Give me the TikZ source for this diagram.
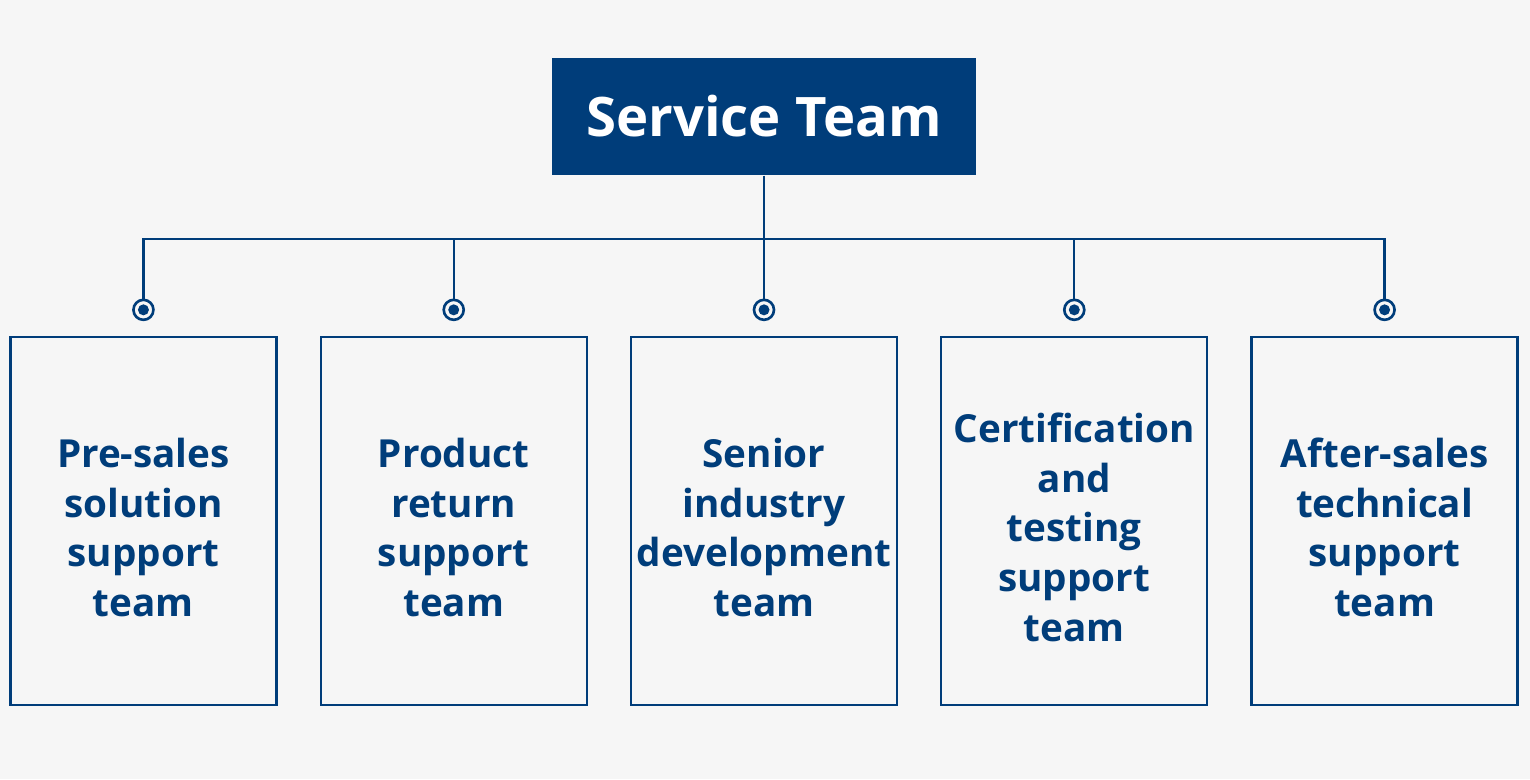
\documentclass[tikz,border=0pt]{standalone}
\usepackage{fontspec}
\setmainfont{Open Sans}
\usepackage{xcolor}
\usetikzlibrary{positioning}
\definecolor{navy}{HTML}{003D7A}
\definecolor{paper}{HTML}{F6F6F6}
\newcommand\teamtext[1]{\raisebox{-0.11cm}[\height][\depth]{\begin{tabular}{@{}c@{}}#1\end{tabular}}}

\begin{document}
\begin{tikzpicture}[node distance=0.42cm,
                    team/.style={draw=navy, line width=0.65pt, text=navy,
                                 font=\fontsize{11}{14.2}\selectfont\bfseries,
                                 minimum width=2.66cm, minimum height=3.68cm, inner sep=0pt},
                    head/.style={fill=navy, text=white, font=\fontsize{15.5}{19}\selectfont\bfseries,
                                 minimum width=4.24cm, minimum height=1.17cm},
                    dot/.style={circle, draw=navy, line width=0.75pt, fill=paper, minimum size=0.2cm, inner sep=0pt,
                                path picture={\fill[navy] (path picture bounding box.center) circle (0.055);}},
                    link/.style={draw=navy, line width=0.65pt}]
\fill[paper] (0,0) rectangle (15.30,7.79);
\useasboundingbox (0,0) rectangle (15.30,7.79);
\node[head] (service) at (7.64,6.625) {Service Team};
\node[team] (dev) at (7.64,2.58) {\teamtext{Senior\\industry\\development\\team}};
\node[team, left=of dev] (return) {\teamtext{Product\\return\\support\\team}};
\node[team, left=of return] (presales) {\teamtext{Pre-sales\\solution\\support\\team}};
\node[team, right=of dev] (cert) {\teamtext{Certification\\and\\testing\\support\\team}};
\node[team, right=of cert] (aftersales) {\teamtext{After-sales\\technical\\support\\team}};
\foreach \t/\d in {presales/d1, return/d2, dev/d3, cert/d4, aftersales/d5}
  \node[dot, above=0.147cm of \t] (\d) {};
\coordinate (bus) at (7.64,5.40);
\draw[link] (service.south) -- (d3.north);
\draw[link] (d1.north) |- (bus) -| (d5.north);
\draw[link] (bus -| d2) -- (d2.north);
\draw[link] (bus -| d4) -- (d4.north);
\end{tikzpicture}
\end{document}
